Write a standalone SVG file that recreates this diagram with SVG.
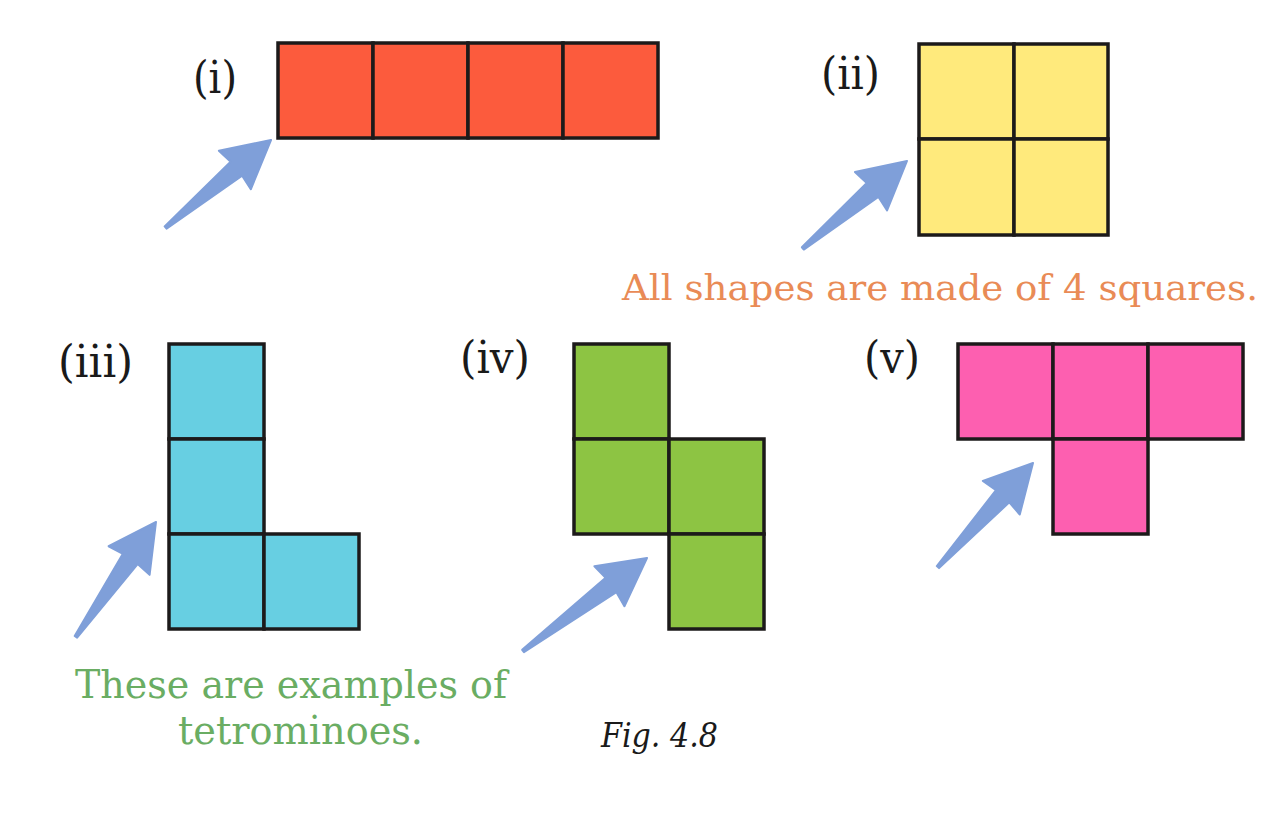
<svg xmlns="http://www.w3.org/2000/svg" width="1283" height="816" viewBox="0 0 1283 816">
<style>
.cell{stroke:#1c1a1a;stroke-width:3.5;stroke-linejoin:miter}
.red{fill:#fc5b3d}.yel{fill:#ffea7c}.cyan{fill:#67cfe2}.grn{fill:#8dc443}.pink{fill:#fd5fb0}
.arrow{fill:#7f9fd9;stroke:#7f9fd9;stroke-width:2;stroke-linejoin:round}
.lbl{font-family:"DejaVu Serif","Liberation Serif",serif;font-size:45px;fill:#1a1a1a}
.note{font-family:"DejaVu Serif","Liberation Serif",serif;font-size:40px}
.fig{font-family:"DejaVu Serif","Liberation Serif",serif;font-size:34px;font-style:italic;fill:#1a1a1a}
</style>
<rect width="1283" height="816" fill="#ffffff"/>
<g id="shape-i">
<rect class="cell red" x="278" y="43" width="95" height="95"/>
<rect class="cell red" x="373" y="43" width="95" height="95"/>
<rect class="cell red" x="468" y="43" width="95" height="95"/>
<rect class="cell red" x="563" y="43" width="95" height="95"/>
<text class="lbl" x="193" y="93" textLength="44" lengthAdjust="spacingAndGlyphs">(i)</text>
</g>
<g id="shape-ii">
<rect class="cell yel" x="919" y="44" width="95" height="95"/>
<rect class="cell yel" x="1014" y="44" width="94" height="95"/>
<rect class="cell yel" x="919" y="139" width="95" height="96"/>
<rect class="cell yel" x="1014" y="139" width="94" height="96"/>
<text class="lbl" x="821" y="89" textLength="59" lengthAdjust="spacingAndGlyphs">(ii)</text>
</g>
<g id="shape-iii">
<rect class="cell cyan" x="169" y="344" width="95" height="95"/>
<rect class="cell cyan" x="169" y="439" width="95" height="95"/>
<rect class="cell cyan" x="169" y="534" width="95" height="95"/>
<rect class="cell cyan" x="264" y="534" width="95" height="95"/>
<text class="lbl" x="58" y="377" textLength="75" lengthAdjust="spacingAndGlyphs">(iii)</text>
</g>
<g id="shape-iv">
<rect class="cell grn" x="574" y="344" width="95" height="95"/>
<rect class="cell grn" x="574" y="439" width="95" height="95"/>
<rect class="cell grn" x="669" y="439" width="95" height="95"/>
<rect class="cell grn" x="669" y="534" width="95" height="95"/>
<text class="lbl" x="460" y="373" textLength="70" lengthAdjust="spacingAndGlyphs">(iv)</text>
</g>
<g id="shape-v">
<rect class="cell pink" x="958" y="344" width="95" height="95"/>
<rect class="cell pink" x="1053" y="344" width="95" height="95"/>
<rect class="cell pink" x="1148" y="344" width="95" height="95"/>
<rect class="cell pink" x="1053" y="439" width="95" height="95"/>
<text class="lbl" x="864" y="373" textLength="56" lengthAdjust="spacingAndGlyphs">(v)</text>
</g>
<g id="connectors">
<polygon class="arrow" transform="translate(271,140) rotate(-39.7)" points="0,0 -47,-25 -45,-9 -137,-1.5 -137,1.5 -45,9 -47,25"/>
<polygon class="arrow" transform="translate(907,161) rotate(-40)" points="0,0 -47,-25 -45,-9 -136,-1.5 -136,1.5 -45,9 -47,25"/>
<polygon class="arrow" transform="translate(156,522) rotate(-55.1)" points="0,0 -47,-25 -45,-9 -140,-1.5 -140,1.5 -45,9 -47,25"/>
<polygon class="arrow" transform="translate(647,558) rotate(-36.9)" points="0,0 -47,-25 -45,-9 -155,-1.5 -155,1.5 -45,9 -47,25"/>
<polygon class="arrow" transform="translate(1033,463) rotate(-47.6)" points="0,0 -47,-25 -45,-9 -141,-1.5 -141,1.5 -45,9 -47,25"/>
</g>
<g id="notes">
<text class="note" x="622" y="300" fill="#e98b56" style="font-size:36px" textLength="636" lengthAdjust="spacingAndGlyphs">All shapes are made of 4 squares.</text>
<text class="note" x="75" y="698" fill="#6aad63" textLength="432" lengthAdjust="spacingAndGlyphs">These are examples of</text>
<text class="note" x="178" y="744" fill="#6aad63" textLength="245" lengthAdjust="spacingAndGlyphs">tetrominoes.</text>
<text class="fig" x="601" y="747" textLength="117" lengthAdjust="spacingAndGlyphs">Fig. 4.8</text>
</g>
</svg>
